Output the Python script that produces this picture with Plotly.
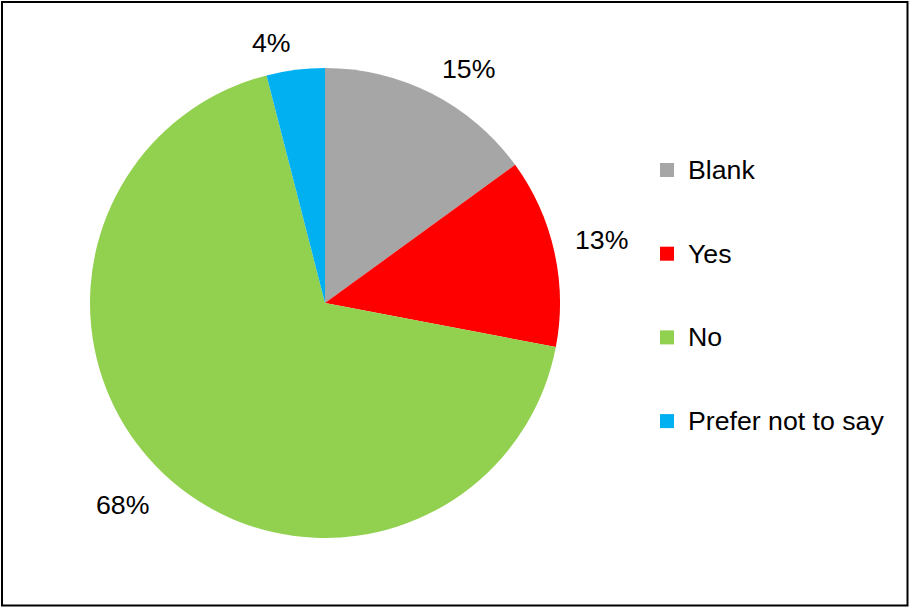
import math
import plotly.graph_objects as go

# ---- data ----
categories = ["Blank", "Yes", "No", "Prefer not to say"]
values = [15, 13, 68, 4]
colors = ["#A6A6A6", "#FF0000", "#92D050", "#00B0F0"]

# ---- layout parameters (pixels) ----
W, H = 909, 607
CX, CY, R = 325, 303, 235
LABEL_R = R * 1.08
FONT = "Liberation Sans, Arial, sans-serif"
FS = 26.7

fig = go.Figure()
fig.add_trace(go.Pie(
    labels=categories,
    values=values,
    marker=dict(colors=colors, line=dict(width=0)),
    sort=False,
    direction="clockwise",
    rotation=0,
    textinfo="none",
    hoverinfo="label+percent",
    showlegend=False,
    domain=dict(x=[(CX - R) / W, (CX + R) / W],
                y=[1 - (CY + R) / H, 1 - (CY - R) / H]),
))

annotations = []
total = sum(values)
cum = 0
for v in values:
    mid = (cum + v / 2) / total * 2 * math.pi
    cum += v
    s, c = math.sin(mid), math.cos(mid)
    px = CX + LABEL_R * s
    py = CY - LABEL_R * c
    annotations.append(dict(
        x=px / W, y=1 - py / H, xref="paper", yref="paper",
        text=f"{round(v / total * 100)}%", showarrow=False,
        xanchor="left" if s > 0 else "right",
        yanchor="bottom" if c > 0 else "top",
        yshift=-9 if c > 0 else 0,
        font=dict(family=FONT, size=FS, color="black"),
    ))

# manual legend (native legend cannot reproduce the wide item spacing)
shapes = []
LEG_Y0, LEG_DY = 170, 83.7
SQ_X, SQ = 667, 14
TXT_X = 686
for i, (cat, col) in enumerate(zip(categories, colors)):
    yc = LEG_Y0 + i * LEG_DY
    shapes.append(dict(type="rect", xref="paper", yref="paper",
                       x0=(SQ_X - SQ / 2) / W, x1=(SQ_X + SQ / 2) / W,
                       y0=1 - (yc + SQ / 2) / H, y1=1 - (yc - SQ / 2) / H,
                       fillcolor=col, line=dict(width=0)))
    annotations.append(dict(
        x=TXT_X / W, y=1 - yc / H, xref="paper", yref="paper",
        text=cat, showarrow=False, xanchor="left", yanchor="middle",
        font=dict(family=FONT, size=FS, color="black"),
    ))

# outer border
shapes.append(dict(type="rect", xref="paper", yref="paper",
                   x0=2 / W, x1=1 - 1.5 / W, y0=1.5 / H, y1=1 - 2 / H,
                   line=dict(color="black", width=2), fillcolor="rgba(0,0,0,0)"))

fig.update_layout(
    width=W, height=H,
    margin=dict(l=0, r=0, t=0, b=0),
    paper_bgcolor="white",
    plot_bgcolor="white",
    annotations=annotations,
    shapes=shapes,
    font=dict(family=FONT, size=FS, color="black"),
)

fig.write_html("out.html",
               config={"displayModeBar": False},
               post_script="document.body.style.margin='0';document.body.style.overflow='hidden';")
